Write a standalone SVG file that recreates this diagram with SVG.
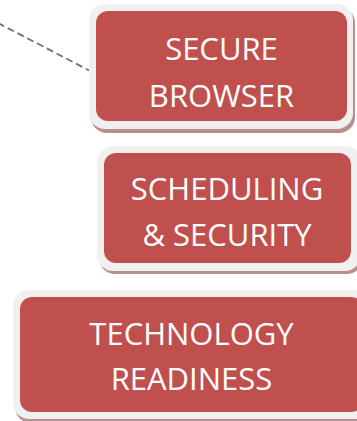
<svg xmlns="http://www.w3.org/2000/svg" width="357" height="421" viewBox="0 0 357 421">
<defs>
<style>
.frame{fill:#f0f0f0;}
.shadow{fill:#b88f8e;}
.box{fill:#c0504d;}
.lbl{font-family:"Open Sans","Liberation Sans",sans-serif;font-size:31px;fill:#ffffff;text-anchor:middle;}
.conn{stroke:#6f6f6f;stroke-width:1.8;stroke-dasharray:7,4;fill:none;}
</style>
</defs>
<rect width="357" height="421" fill="#ffffff"/>
<g id="connectors">
<line class="conn" x1="-2" y1="23" x2="94" y2="73"/>
</g>
<g id="node-secure-browser">
<rect class="shadow" x="91" y="7" width="264" height="126" rx="16"/>
<rect class="frame" x="89" y="4" width="264" height="125" rx="16"/>
<rect class="box" x="96" y="11" width="251" height="110" rx="12"/>
<text class="lbl" x="221.5" y="60">SECURE</text>
<text class="lbl" x="221.5" y="106.5">BROWSER</text>
</g>
<g id="node-scheduling-security">
<rect class="shadow" x="99" y="149" width="264" height="125" rx="16"/>
<rect class="frame" x="97" y="146" width="264" height="125" rx="16"/>
<rect class="box" x="104" y="153" width="247" height="110" rx="12"/>
<text class="lbl" x="227" y="200">SCHEDULING</text>
<text class="lbl" x="227" y="246">&amp; SECURITY</text>
</g>
<g id="node-technology-readiness">
<rect class="shadow" x="15" y="293" width="360" height="130" rx="16"/>
<rect class="frame" x="13" y="290" width="360" height="129" rx="16"/>
<rect class="box" x="20" y="297" width="343" height="115" rx="12"/>
<text class="lbl" x="191.5" y="345">TECHNOLOGY</text>
<text class="lbl" x="191.5" y="390">READINESS</text>
</g>
</svg>
